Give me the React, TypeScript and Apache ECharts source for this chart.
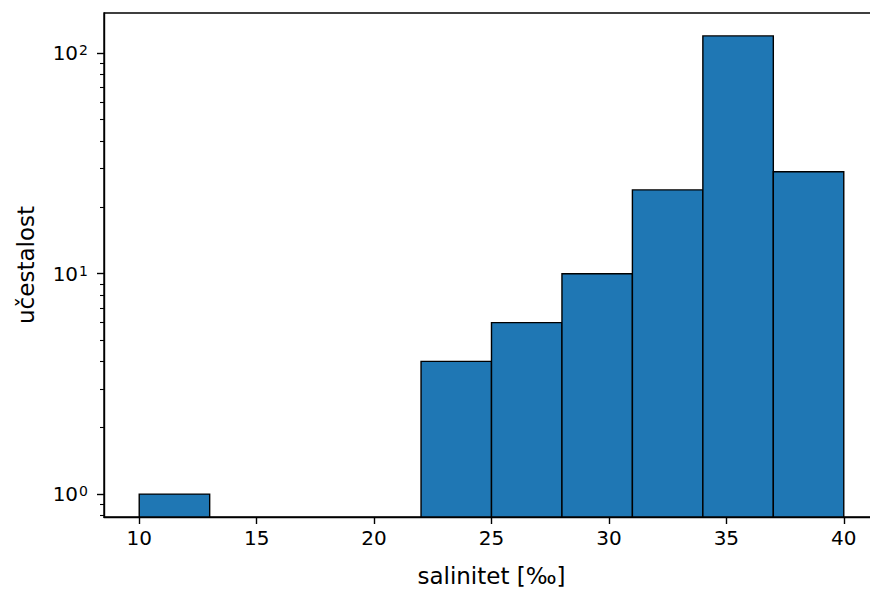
import React, { useEffect, useRef } from "react";
import * as echarts from "echarts";

const binEdges = [10, 13, 16, 19, 22, 25, 28, 31, 34, 37, 40];
const counts = [1, 0, 0, 0, 4, 6, 10, 24, 120, 29];
const xTicks = [10, 15, 20, 25, 30, 35, 40];
const yMajorValues = [1, 10, 100];
const yMinorValues = [0.8, 0.9, 2, 3, 4, 5, 6, 7, 8, 9, 20, 30, 40, 50, 60, 70, 80, 90];
const xRange = [8.5, 41.5];
const yRange = [0.787, 152.4];

const FONT = "DejaVu Sans";
const TICK_FS = 20;
const NAME_FS = 23;

export default function App() {
  const ref = useRef<HTMLDivElement>(null);
  useEffect(() => {
    const chart = echarts.init(ref.current!, null, { renderer: "svg" });
    const log = Math.log10;
    const yMin = log(yRange[0]);
    const yMax = log(yRange[1]);
    const data = counts
      .map((c, i) => [binEdges[i], binEdges[i + 1], c])
      .filter((d) => d[2] > 0)
      .map((d) => [d[0], d[1], log(d[2])]);

    chart.setOption({
      animation: false,
      grid: {
        left: 104,
        top: 13,
        width: 775,
        height: 504,
        show: true,
        borderColor: "#000",
        borderWidth: 1.4,
        backgroundColor: "transparent",
      },
      xAxis: {
        type: "value",
        min: xRange[0],
        max: xRange[1],
        name: "salinitet [‰]",
        nameLocation: "middle",
        nameGap: 47,
        nameTextStyle: { fontFamily: FONT, fontSize: NAME_FS, color: "#000" },
        axisLine: { show: true, onZero: false, lineStyle: { color: "#000", width: 1.4 } },
        axisTick: {
          show: true,
          length: 7,
          customValues: xTicks,
          lineStyle: { color: "#000", width: 1.4 },
        },
        axisLabel: {
          customValues: xTicks,
          margin: 11,
          fontFamily: FONT,
          fontSize: TICK_FS,
          color: "#000",
        },
        splitLine: { show: false },
      },
      yAxis: [
        {
          type: "value",
          min: yMin,
          max: yMax,
          position: "left",
          name: "učestalost",
          nameLocation: "middle",
          nameGap: 67,
          nameTextStyle: { fontFamily: FONT, fontSize: NAME_FS, color: "#000" },
          axisLine: { show: true, onZero: false, lineStyle: { color: "#000", width: 1.4 } },
          axisTick: {
            show: true,
            length: 7,
            customValues: yMajorValues.map(log),
            lineStyle: { color: "#000", width: 1.4 },
          },
          axisLabel: {
            customValues: yMajorValues.map(log),
            margin: 16,
            fontFamily: FONT,
            fontSize: TICK_FS,
            color: "#000",
            formatter: (v: number) => `10{sup|${Math.round(v)}}`,
            rich: {
              sup: {
                fontFamily: FONT,
                fontSize: 14,
                color: "#000",
                verticalAlign: "top",
                lineHeight: 14,
                padding: [0, 0, 8, 1],
              },
            },
          },
          splitLine: { show: false },
        },
        {
          type: "value",
          min: yMin,
          max: yMax,
          position: "left",
          axisLine: { show: false, onZero: false },
          axisTick: {
            show: true,
            length: 4,
            customValues: yMinorValues.map(log),
            lineStyle: { color: "#000", width: 1.1 },
          },
          axisLabel: { show: false },
          splitLine: { show: false },
        },
      ],
      series: [
        {
          type: "custom",
          clip: true,
          data,
          encode: { x: [0, 1], y: 2 },
          renderItem: (params: any, api: any) => {
            const x0 = api.value(0);
            const x1 = api.value(1);
            const v = api.value(2);
            const p0 = api.coord([x0, v]);
            const p1 = api.coord([x1, yMin]);
            return {
              type: "rect",
              shape: {
                x: p0[0],
                y: p0[1],
                width: p1[0] - p0[0],
                height: p1[1] - p0[1],
              },
              style: { fill: "#1f77b4", stroke: "#000", lineWidth: 1.4 },
            };
          },
        },
      ],
    });
    return () => chart.dispose();
  }, []);
  return (
    <div
      style={{
        position: "absolute",
        left: 0,
        top: 0,
        width: 870,
        height: 594,
        overflow: "hidden",
      }}
    >
      <div ref={ref} style={{ width: 890, height: 594 }} />
    </div>
  );
}
